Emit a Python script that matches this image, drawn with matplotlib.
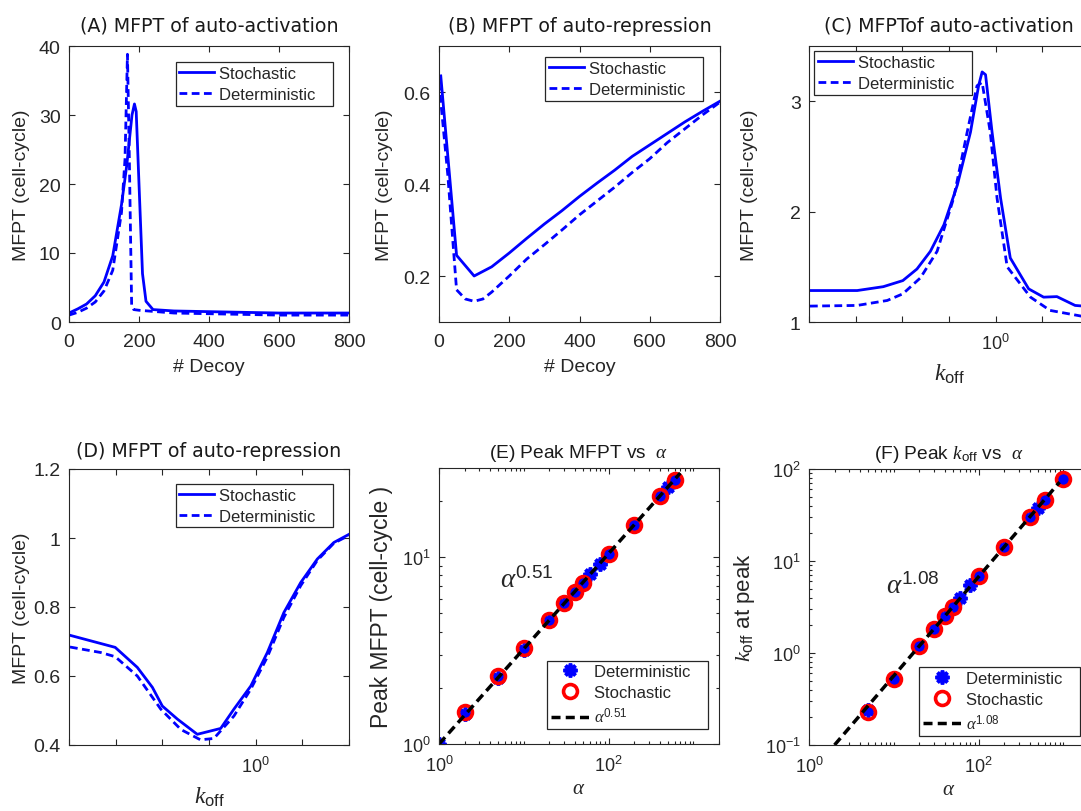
"""Six-panel MFPT figure (decoy / k_off / alpha scans) redrawn in matplotlib."""
import matplotlib

matplotlib.use("Agg")
import matplotlib.pyplot as plt  # noqa: E402
from matplotlib.ticker import (FixedLocator, FuncFormatter, LogLocator,  # noqa: E402
                               NullFormatter)

plt.rcParams["font.family"] = ["Liberation Sans", "DejaVu Sans"]
plt.rcParams["mathtext.fontset"] = "custom"
plt.rcParams["mathtext.rm"] = "Liberation Sans"
plt.rcParams["mathtext.it"] = "Liberation Serif:italic"
plt.rcParams["mathtext.bf"] = "Liberation Sans:bold"

_AX = "#262626"
_BLUE = "#0000ff"
_RED = "#ff0000"

# ---- (A) auto-activation vs # decoy
decoy_a_sto = [0, 25, 50, 75, 100, 125, 150, 165, 180, 187, 192, 200, 210, 220, 240, 300, 400, 500, 600, 700, 800]
mfpt_a_sto = [1.3, 1.9, 2.6, 3.8, 5.8, 9.6, 17.0, 22.7, 30.0, 31.6, 30.5, 20.0, 7.0, 3.0, 1.8, 1.6, 1.5, 1.4, 1.3, 1.3, 1.3]
decoy_a_det = [0, 25, 50, 75, 100, 125, 150, 160, 167, 172, 176, 179, 185, 200, 250, 300, 400, 500, 600, 700, 800]
mfpt_a_det = [1.0, 1.4, 2.0, 2.9, 4.5, 7.5, 15.9, 23.6, 38.8, 25.0, 12.0, 2.4, 1.8, 1.7, 1.5, 1.3, 1.2, 1.1, 1.0, 1.0, 1.0]

# ---- (B) auto-repression vs # decoy
decoy_b_sto = [5, 50, 100, 150, 200, 250, 300, 350, 400, 450, 500, 550, 600, 650, 700, 750, 800]
mfpt_b_sto = [0.635, 0.245, 0.2, 0.22, 0.25, 0.282, 0.313, 0.342, 0.373, 0.402, 0.43, 0.46, 0.485, 0.51, 0.535, 0.558, 0.58]
decoy_b_det = [0, 25, 50, 75, 100, 125, 150, 200, 250, 300, 350, 400, 450, 500, 550, 600, 650, 700, 750, 800]
mfpt_b_det = [0.62, 0.42, 0.17, 0.15, 0.145, 0.15, 0.165, 0.2, 0.237, 0.268, 0.3, 0.333, 0.363, 0.393, 0.425,
              0.455, 0.49, 0.52, 0.55, 0.578]

# ---- (C) auto-activation vs k_off
koff_c_sto = [0.16, 0.255, 0.33, 0.40, 0.46, 0.525, 0.60, 0.685, 0.78, 0.845, 0.875, 0.905, 0.965, 1.05, 1.155,
              1.385, 1.605, 1.83, 2.19, 2.52]
mfpt_c_sto = [1.285, 1.285, 1.32, 1.375, 1.48, 1.64, 1.88, 2.24, 2.72, 3.14, 3.265, 3.24, 2.72, 2.12, 1.58,
              1.30, 1.225, 1.23, 1.15, 1.14]
koff_c_det = [0.16, 0.255, 0.343, 0.40, 0.476, 0.561, 0.66, 0.755, 0.832, 0.875, 0.948, 1.014, 1.12, 1.41, 1.71, 2.52]
mfpt_c_det = [1.144, 1.15, 1.195, 1.255, 1.40, 1.64, 2.12, 2.72, 3.14, 3.17, 2.72, 2.12, 1.50, 1.225, 1.105, 1.04]

# ---- (D) auto-repression vs k_off
koff_d_sto = [0.16, 0.25, 0.311, 0.361, 0.398, 0.462, 0.562, 0.708, 0.807, 0.953, 1.122, 1.321, 1.56, 1.837,
              2.163, 2.518]
mfpt_d_sto = [0.718, 0.683, 0.625, 0.567, 0.513, 0.475, 0.431, 0.448, 0.504, 0.571, 0.668, 0.784, 0.871, 0.939,
              0.987, 1.011]
koff_d_det = [0.16, 0.217, 0.25, 0.311, 0.392, 0.478, 0.58, 0.662, 0.807, 0.953, 1.122, 1.321, 1.56, 1.837,
              2.163, 2.518]
mfpt_d_det = [0.684, 0.668, 0.656, 0.60, 0.504, 0.445, 0.415, 0.419, 0.484, 0.562, 0.655, 0.77, 0.862, 0.935,
              0.985, 1.008]

# ---- (E) peak MFPT vs alpha
alpha_e_det = [1, 2, 5, 10, 20, 30, 40, 50, 60, 80, 100, 200, 400, 500, 600]
peak_e_det = [1.0, 1.45, 2.25, 3.2, 4.55, 5.6, 6.5, 7.25, 8.1, 9.2, 10.4, 14.8, 21.2, 23.6, 25.8]
alpha_e_sto = [2, 5, 10, 20, 30, 40, 50, 100, 200, 400, 600]
peak_e_sto = [1.48, 2.30, 3.25, 4.59, 5.65, 6.53, 7.3, 10.4, 14.8, 21.3, 25.9]
fit_e_alpha = [1, 700]
fit_e_val = [1.0, 28.2]

# ---- (F) k_off at peak vs alpha
alpha_f_det = [5, 10, 20, 30, 40, 50, 60, 80, 100, 200, 400, 500, 600, 1000]
koff_f_det = [0.24, 0.52, 1.18, 1.82, 2.48, 3.15, 3.95, 5.5, 6.85, 14.0, 29.5, 38.0, 46.0, 78.0]
alpha_f_sto = [5, 10, 20, 30, 40, 50, 100, 200, 400, 600, 1000]
koff_f_sto = [0.229, 0.526, 1.19, 1.84, 2.5, 3.2, 6.9, 14.1, 30.1, 46.5, 78.3]
fit_f_alpha = [2, 900]
fit_f_val = [0.1, 72]

KOFF = r"$k_{\mathrm{off}}$"


def _style(ax, logx=False, logy=False):
    for sp in ax.spines.values():
        sp.set_color(_AX)
        sp.set_linewidth(0.8)
    ax.tick_params(which="both", direction="in", top=True, right=True, colors=_AX,
                   labelsize=14, width=0.8)
    ax.tick_params(which="major", length=4, pad=6)
    ax.tick_params(which="minor", length=2.2)
    ax.tick_params(axis="x", which="major", pad=8)
    if logx:
        ax.tick_params(axis="x", labelsize=13)
    if logy:
        ax.tick_params(axis="y", labelsize=13)


def _title(ax, text, family="DejaVu Sans", size=13.7, pad=11):
    ax.set_title(text, fontsize=size, family=family, color="#1a1a1a", pad=pad)


def _legend(ax, loc, anchor, handlelength=2.1):
    handles, labels = ax.get_legend_handles_labels()
    # MATLAB legends leave extra room after the text
    labels = [lab + "   " for lab in labels]
    leg = ax.legend(handles, labels, loc=loc, bbox_to_anchor=anchor, borderaxespad=0,
                    fontsize=12, fancybox=False, framealpha=1, edgecolor=_AX,
                    handlelength=handlelength, handletextpad=0.3, labelspacing=0.36,
                    borderpad=0.22)
    leg.get_frame().set_linewidth(0.9)
    for t in leg.get_texts():
        t.set_color(_AX)
    return leg


def _pair(ax, xs, ys, xd, yd):
    ax.plot(xs, ys, color=_BLUE, lw=2, label="Stochastic")
    ax.plot(xd, yd, color=_BLUE, lw=2, dashes=(2.8, 1.6), label="Deterministic")


def _koff_axis(ax):
    ax.set_xscale("log")
    ax.set_xlim(10 ** -0.8, 10 ** 0.4)
    ax.xaxis.set_major_locator(FixedLocator([10 ** (k / 5) for k in range(-4, 3)]))
    ax.xaxis.set_minor_locator(FixedLocator([]))
    ax.xaxis.set_major_formatter(FuncFormatter(
        lambda v, _: r"$\mathdefault{10^{0}}$" if abs(v - 1) < 1e-6 else ""))
    ax.tick_params(axis="x", labelsize=13)
    ax.set_xlabel(KOFF, fontsize=17, color=_AX)
    ax.xaxis.set_label_coords(0.5, -0.145)


def _loglog(ax, ylo, yhi, ymajor):
    ax.set_xscale("log")
    ax.set_yscale("log")
    ax.set_xlim(1, 2000)
    ax.set_ylim(ylo, yhi)
    ax.xaxis.set_major_locator(FixedLocator([1, 100]))
    ax.xaxis.set_minor_locator(LogLocator(base=10, subs=range(1, 10), numticks=50))
    ax.xaxis.set_minor_formatter(NullFormatter())
    ax.yaxis.set_major_locator(FixedLocator(ymajor))
    ax.yaxis.set_minor_locator(LogLocator(base=10, subs=range(1, 10), numticks=50))
    ax.yaxis.set_minor_formatter(NullFormatter())
    ax.set_xlabel(r"$\alpha$", fontsize=15, color=_AX)
    ax.xaxis.set_label_coords(0.5, -0.125)


def _scatter(ax, ad, vd, asto, vsto, af, vf, lab):
    ax.plot(ad, vd, ls="none", marker=(8, 2, 0), ms=10, mew=2.6, color=_BLUE,
            label="Deterministic")
    ax.plot(asto, vsto, ls="none", marker="o", ms=10, mew=2.6, mfc="none", mec=_RED,
            label="Stochastic")
    ax.plot(af, vf, color="black", lw=2.5, dashes=(2.6, 1.5), label=lab)


W, H = 280 / 1081, 276 / 812
fig = plt.figure(figsize=(10.81, 8.12), dpi=100)

ax = fig.add_axes([69 / 1081, (812 - 323) / 812, W, H])
_style(ax)
_pair(ax, decoy_a_sto, mfpt_a_sto, decoy_a_det, mfpt_a_det)
ax.set_xlim(0, 800)
ax.set_ylim(0, 40)
ax.set_xticks([0, 200, 400, 600, 800])
ax.set_yticks([0, 10, 20, 30, 40])
ax.set_xlabel("# Decoy", fontsize=14, color=_AX)
ax.xaxis.set_label_coords(0.5, -0.13)
ax.set_ylabel("MFPT (cell-cycle)", fontsize=14, color=_AX)
ax.yaxis.set_label_coords(-0.139, 0.5)
_title(ax, "(A) MFPT of auto-activation")
_legend(ax, "upper right", (0.944, 0.941))

ax = fig.add_axes([439 / 1081, (812 - 323) / 812, 281 / 1081, H])
_style(ax)
_pair(ax, decoy_b_sto, mfpt_b_sto, decoy_b_det, mfpt_b_det)
ax.set_xlim(0, 800)
ax.set_ylim(0.1, 0.7)
ax.set_xticks([0, 200, 400, 600, 800])
ax.set_yticks([0.2, 0.4, 0.6])
ax.set_yticklabels(["0.2", "0.4", "0.6"])
ax.set_xlabel("# Decoy", fontsize=14, color=_AX)
ax.xaxis.set_label_coords(0.5, -0.13)
ax.set_ylabel("MFPT (cell-cycle)", fontsize=14, color=_AX)
ax.yaxis.set_label_coords(-0.164, 0.5)
_title(ax, "(B) MFPT of auto-repression")
_legend(ax, "upper right", (0.938, 0.959))

ax = fig.add_axes([809 / 1081, (812 - 323) / 812, W, H])
_style(ax)
_pair(ax, koff_c_sto, mfpt_c_sto, koff_c_det, mfpt_c_det)
_koff_axis(ax)
ax.set_ylim(1, 3.5)
ax.set_yticks([1, 2, 3])
ax.set_ylabel("MFPT (cell-cycle)", fontsize=14, color=_AX)
ax.yaxis.set_label_coords(-0.182, 0.5)
_title(ax, "(C) MFPTof auto-activation")
_legend(ax, "upper left", (0.019, 0.981))

ax = fig.add_axes([69 / 1081, (812 - 746) / 812, W, H])
_style(ax)
_pair(ax, koff_d_sto, mfpt_d_sto, koff_d_det, mfpt_d_det)
_koff_axis(ax)
ax.set_ylim(0.4, 1.2)
ax.set_yticks([0.4, 0.6, 0.8, 1.0, 1.2])
ax.set_yticklabels(["0.4", "0.6", "0.8", "1", "1.2"])
ax.set_ylabel("MFPT (cell-cycle)", fontsize=14, color=_AX)
ax.yaxis.set_label_coords(-0.139, 0.5)
_title(ax, "(D) MFPT of auto-repression", pad=9)
_legend(ax, "upper right", (0.944, 0.946))

ax = fig.add_axes([439 / 1081, (812 - 745) / 812, W, H])
_style(ax, logx=True, logy=True)
_scatter(ax, alpha_e_det, peak_e_det, alpha_e_sto, peak_e_sto, fit_e_alpha, fit_e_val,
         r"$\alpha^{0.51}$")
_loglog(ax, 1, 30, [1, 10])
ax.set_ylabel("Peak MFPT (cell-cycle )", fontsize=16.5, color=_AX)
ax.yaxis.set_label_coords(-0.164, 0.5)
ax.text(5.3, 6.9, r"$\alpha^{0.51}$", fontsize=19.5, color=_AX, ha="left", va="baseline")
_title(ax, r"(E) Peak MFPT vs  $\alpha$", family="Liberation Sans", size=13.8, pad=8)
_legend(ax, "lower right", (0.96, 0.054), handlelength=2.3)

ax = fig.add_axes([809 / 1081, (812 - 746) / 812, W, H])
_style(ax, logx=True, logy=True)
_scatter(ax, alpha_f_det, koff_f_det, alpha_f_sto, koff_f_sto, fit_f_alpha, fit_f_val,
         r"$\alpha^{1.08}$")
_loglog(ax, 0.1, 100, [0.1, 1, 10, 100])
ax.set_ylabel(KOFF + " at peak", fontsize=16, color=_AX)
ax.yaxis.set_label_coords(-0.186, 0.5)
ax.text(8, 4.5, r"$\alpha^{1.08}$", fontsize=19.5, color=_AX, ha="left", va="baseline")
_title(ax, r"(F) Peak " + KOFF + r" vs  $\alpha$", family="Liberation Sans", size=13.8, pad=8)
_legend(ax, "lower right", (0.968, 0.034), handlelength=2.3)

fig.savefig("out.png", dpi=100)
